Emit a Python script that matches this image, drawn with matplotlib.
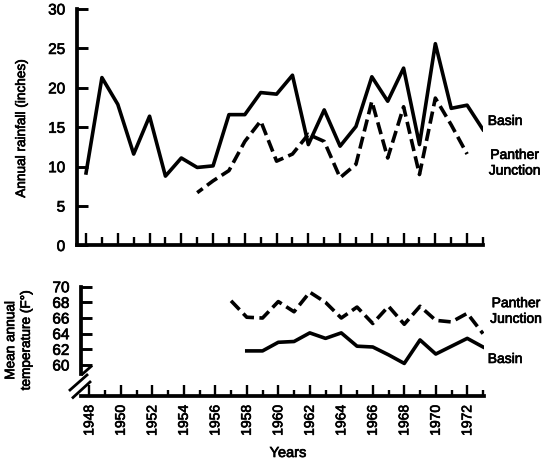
import matplotlib
matplotlib.use("Agg")
import matplotlib.pyplot as plt
from matplotlib.lines import Line2D
import matplotlib.patheffects as pe

plt.rcParams['font.family'] = ['Liberation Sans', 'DejaVu Sans']
BOLDEN = [pe.withStroke(linewidth=0.5, foreground='black')]

# ---------------- data ----------------
rain_years_basin = list(range(1948, 1974))
rain_basin = [9.2, 21.3, 17.9, 11.6, 16.4, 8.8, 11.1, 9.9, 10.1, 16.6, 16.6, 19.4, 19.2,
              21.6, 12.8, 17.2, 12.6, 15.1, 21.4, 18.3, 22.5, 12.8, 25.6, 17.4, 17.8, 14.7]
rain_years_panther = list(range(1955, 1973))
rain_panther = [6.7, 8.2, 9.5, 13.2, 15.8, 10.7, 11.6, 14.1, 13.2, 8.6, 10.3, 18.3,
                11.1, 17.6, 9.0, 18.7, 15.3, 11.6]
temp_years_panther = list(range(1957, 1974))
temp_panther = [68.2, 66.1, 66.0, 68.1, 66.8, 69.3, 68.0, 66.0, 67.4, 65.3, 67.5, 65.2,
                67.5, 65.7, 65.5, 66.6, 64.0]
temp_years_basin = list(range(1958, 1974))
temp_basin = [61.8, 61.8, 62.9, 63.0, 64.1, 63.4, 64.1, 62.4, 62.3, 61.3, 60.2, 63.2,
              61.4, 62.4, 63.4, 62.3]

rain_ticks = [0, 5, 10, 15, 20, 25, 30]
temp_ticks = [60, 62, 64, 66, 68, 70]
year_ticks_major = list(range(1948, 1973, 2))
year_ticks_minor = list(range(1949, 1974, 2))
year_labels = [str(y) for y in year_ticks_major]

# ---------------- layout ----------------
W, H = 550, 463
fig = plt.figure(figsize=(W / 100, H / 100), dpi=100)


def rect(l, t, r, b):
    return [l / W, 1 - b / H, (r - l) / W, (b - t) / H]


def fp(x, y):
    return x / W, 1 - y / H


ax1 = fig.add_axes(rect(77, 9, 483.3, 245.5))
ax2 = fig.add_axes(rect(81.2, 286.7, 483.8, 396))

LW = 2.6
DASH = (3.4, 1.5)
SPW = 2.7
FS = 10

# ---- top panel ----
ax1.plot(rain_years_basin, rain_basin, color='black', lw=LW)
ax1.plot(rain_years_panther, rain_panther, color='black', lw=LW, linestyle=(1.5, DASH))
ax1.set_xlim(1947.43, 1973.02)
ax1.set_ylim(0, 30)
ax1.set_yticks(rain_ticks)
ax1.set_xticks(year_ticks_major)
ax1.set_xticks(year_ticks_minor, minor=True)
ax1.set_xticklabels([])
ax1.tick_params(axis='y', direction='in', length=8, width=2.1, pad=8.5, labelsize=FS + 1)
ax1.tick_params(axis='x', which='major', direction='in', length=8.5, width=1.7)
ax1.tick_params(axis='x', which='minor', direction='in', length=5.5, width=1.7)
for s in ['top', 'right']:
    ax1.spines[s].set_visible(False)
for s in ['left', 'bottom']:
    ax1.spines[s].set_linewidth(SPW)
t1 = ax1.text(1973.3, 15.8, 'Basin', ha='left', va='center', fontsize=FS, clip_on=False)
t2 = ax1.text(1975.0, 10.5, 'Panther\nJunction', ha='center', va='center', fontsize=FS,
              linespacing=1.15, clip_on=False)

# ---- bottom panel ----
ax2.plot(temp_years_basin, temp_basin, color='black', lw=LW)
ax2.plot(temp_years_panther, temp_panther, color='black', lw=LW, linestyle=(0, DASH))
ax2.set_xlim(1947.486, 1973.05)
ax2.set_ylim(56.04, 70.0)
ax2.set_yticks(temp_ticks)
ax2.set_xticks(year_ticks_major)
ax2.set_xticklabels(year_labels, rotation=90, fontsize=FS)
ax2.set_xticks(year_ticks_minor, minor=True)
ax2.tick_params(axis='y', direction='in', length=8, width=2.1, pad=8.5, labelsize=FS + 1)
ax2.tick_params(axis='x', which='major', direction='in', length=8, width=1.7, pad=6.5)
ax2.tick_params(axis='x', which='minor', direction='in', length=4.5, width=1.7)
for s in ['top', 'right']:
    ax2.spines[s].set_visible(False)
for s in ['left', 'bottom']:
    ax2.spines[s].set_linewidth(SPW)
ax2.spines['left'].set_bounds(58.9, 70.0)
t3 = ax2.text(1975.1, 66.9, 'Panther\nJunction', ha='center', va='center', fontsize=FS,
              linespacing=1.15, clip_on=False)
t4 = ax2.text(1973.3, 60.77, 'Basin', ha='left', va='center', fontsize=FS, clip_on=False)

# axis break marks
for (x0, y0, x1, y1) in [(82.5, 374, 91, 366.5), (70, 390, 87, 375), (73, 397.5, 90, 382)]:
    a, b = fp(x0, y0)
    c, d = fp(x1, y1)
    fig.add_artist(Line2D([a, c], [b, d], transform=fig.transFigure, color='black', lw=2.0))

# axis titles
t5 = fig.text(*fp(21, 128), 'Annual rainfall (inches)', rotation=90, ha='center', va='center',
              fontsize=9.8)
t6 = fig.text(*fp(18, 340), 'Mean annual\ntemperature (F°)', rotation=90, ha='center',
              va='center', fontsize=9.8, linespacing=1.15)
t7 = fig.text(*fp(288, 453), 'Years', ha='center', va='center', fontsize=FS + 0.5)

for t in [t1, t2, t3, t4, t5, t6, t7] + ax1.get_yticklabels() + ax2.get_yticklabels() \
        + ax2.get_xticklabels():
    t.set_path_effects(BOLDEN)

fig.savefig('out.png', dpi=100)
